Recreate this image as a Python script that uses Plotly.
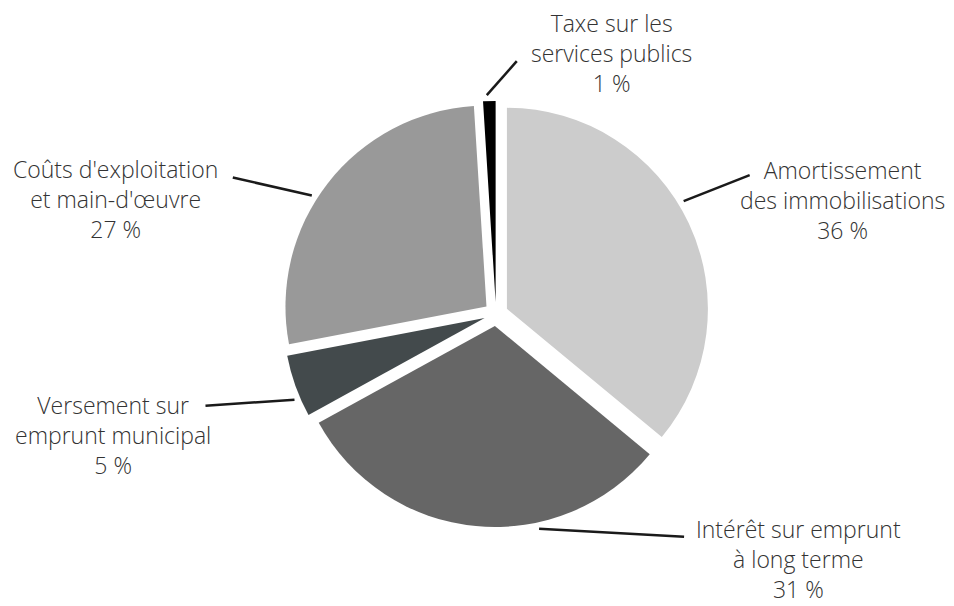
import math
import plotly.graph_objects as go

# ---- data ----
labels = ["Amortissement des immobilisations", "Intérêt sur emprunt à long terme",
          "Versement sur emprunt municipal", "Coûts d'exploitation et main-d'œuvre",
          "Taxe sur les services publics"]
label_lines = ["Amortissement<br>des immobilisations", "Intérêt sur emprunt<br>à long terme",
               "Versement sur<br>emprunt municipal", "Coûts d'exploitation<br>et main-d'œuvre",
               "Taxe sur les<br>services publics"]
values = [36, 31, 5, 27, 1]
colors = ["#cccccc", "#666666", "#434a4c", "#999999", "#000000"]

# ---- style / layout ----
W, H = 954, 606
OFF = 8                    # page body margin in the browser
CX, CY = 496, 314          # pie centre in window pixels
R_PIE = 201                # pie radius (unpulled)
PULL = 0.06
R_BOX = R_PIE * (1 + PULL)
R_TIP = 219                # leader line start radius
tip_frac = [0.455, 0.35, 0.32, 0.448, 0.33]
line_off = [(66, -26), (145, 8), (-89, 6), (-79, -18), (30, -34)]
text_off = [(93, 25), (114, 22), (-92, 29), (-117, 21), (95, -8)]
FONT = dict(family="'Open Sans', 'Liberation Sans', Arial, sans-serif", size=23,
            color="#333333", weight=300)


def px(x):
    return (x - OFF) / W


def py(y):
    return 1 - (y - OFF) / H


fig = go.Figure(go.Pie(
    labels=labels, values=values, sort=False, direction="clockwise", rotation=0,
    pull=[PULL] * len(values),
    marker=dict(colors=colors, line=dict(width=0)),
    textinfo="none", hoverinfo="label+percent", showlegend=False,
    domain=dict(x=[px(CX - R_BOX), px(CX + R_BOX)], y=[py(CY + R_BOX), py(CY - R_BOX)]),
))

total = sum(values)
cum = 0
shapes, annotations = [], []
for i, v in enumerate(values):
    start = cum / total * 360
    span = v / total * 360
    cum += v
    ang = math.radians(start + tip_frac[i] * span)
    tx = CX + R_TIP * math.sin(ang)
    ty = CY - R_TIP * math.cos(ang)
    ex, ey = tx + line_off[i][0], ty + line_off[i][1]
    shapes.append(dict(type="line", xref="paper", yref="paper",
                       x0=px(tx), y0=py(ty), x1=px(ex), y1=py(ey),
                       line=dict(color="#1a1a1a", width=2.5)))
    lx, ly = ex + text_off[i][0], ey + text_off[i][1]
    pct = round(v / total * 100)
    annotations.append(dict(xref="paper", yref="paper", x=px(lx), y=py(ly),
                            xanchor="center", yanchor="middle", align="center",
                            showarrow=False, font=FONT,
                            text=f"{label_lines[i]}<br>{pct} %"))

fig.update_layout(width=W, height=H, margin=dict(l=0, r=0, t=0, b=0),
                  paper_bgcolor="white", plot_bgcolor="white",
                  shapes=shapes, annotations=annotations)
fig.write_html("out.html")
